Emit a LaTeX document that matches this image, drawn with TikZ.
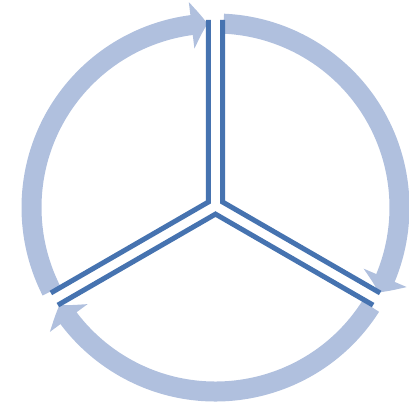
\documentclass[tikz,border=0pt]{standalone}
\usepackage{tikz}
\usetikzlibrary{arrows.meta, bending, calc}
\definecolor{cycleblue}{RGB}{176,192,222}
\definecolor{spokeblue}{RGB}{70,115,176}

\begin{document}
\begin{tikzpicture}[x=1pt, y=1pt,
    cyclearc/.style={cycleblue, line width=20pt, -{Triangle[width=46pt, length=16pt, bend]}},
    spoke/.style={spokeblue, line width=5pt, miter limit=10}]
  \useasboundingbox (-215.5,-196.5) rectangle (193.5,207.5);
  % the three arrows round the circle
  \foreach \s/\e in {207/92.5, 87.5/-27.5, -32.5/-148} {
    \draw[cyclearc] (\s:184) arc[start angle=\s, end angle=\e, radius=184];
  }
  % double lines of the Y
  \begin{scope}[shift={(0,1.5)}]
    \foreach \b in {150, 30, 270} {
      \coordinate (corner) at (\b:8.1);
      \draw[spoke] ($(corner)+(\b+60:182)$) -- (corner) -- ++(\b-60:182);
    }
  \end{scope}
\end{tikzpicture}
\end{document}
